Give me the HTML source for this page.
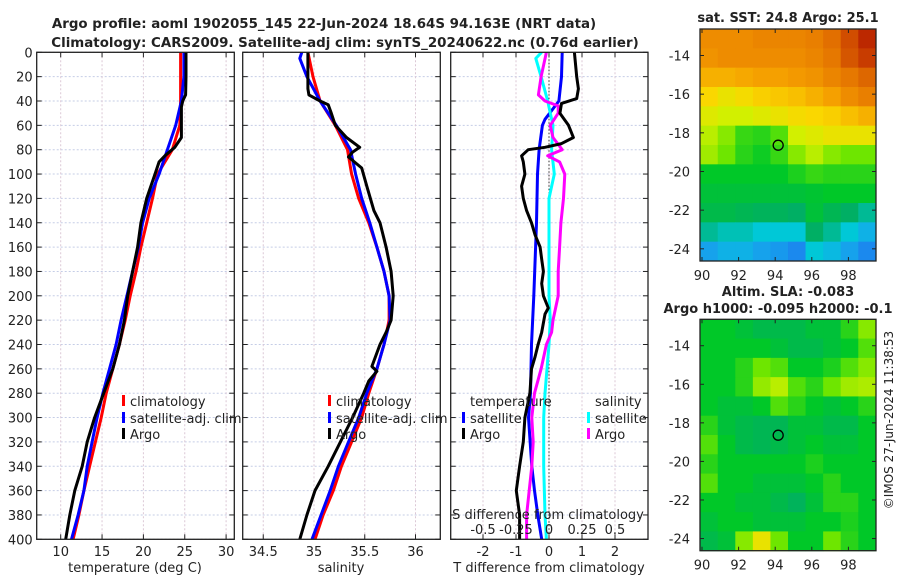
<!DOCTYPE html>
<html><head><meta charset="utf-8"><style>
html,body{margin:0;padding:0;background:#fff;}
svg{display:block;font-family:"DejaVu Sans","Liberation Sans",sans-serif;}
text{fill:#222;}
</style></head><body>
<svg id="chart" width="900" height="580" viewBox="0 0 900 580" xmlns="http://www.w3.org/2000/svg">
<g id="titles">
<text x="324" y="28" font-size="13.4" font-weight="bold" text-anchor="middle">Argo profile: aoml 1902055_145 22-Jun-2024 18.64S 94.163E (NRT data)</text>
<text x="345" y="47" font-size="13.4" font-weight="bold" text-anchor="middle">Climatology: CARS2009. Satellite-adj clim: synTS_20240622.nc (0.76d earlier)</text>
<text x="788" y="22" font-size="13" font-weight="bold" text-anchor="middle">sat. SST: 24.8 Argo: 25.1</text>
<text x="788" y="296" font-size="13" font-weight="bold" text-anchor="middle">Altim. SLA: -0.083</text>
<text x="778" y="313" font-size="13" font-weight="bold" text-anchor="middle">Argo h1000: -0.095 h2000: -0.1</text>
<text transform="translate(893,420) rotate(-90)" font-size="12" text-anchor="middle">©IMOS 27-Jun-2024 11:38:53</text>
</g>
<g id="plots"></g>
</svg>
<script>
// ---------- Data ----------
const depthStd = [0,20,40,60,80,100,120,140,160,180,200,220,240,260,280,300,320,340,360,380,400];
const depthTicks = [0,20,40,60,80,100,120,140,160,180,200,220,240,260,280,300,320,340,360,380,400];
const tempClim = [24.5,24.5,24.5,24.4,23.5,21.7,21.1,20.4,19.7,19.1,18.4,17.8,17.1,16.3,15.5,14.9,14.2,13.5,12.8,12.2,11.5];
const tempSat  = [24.9,24.9,24.6,23.9,22.9,21.9,20.7,19.9,19.4,18.7,18.0,17.3,16.7,15.9,15.1,14.4,13.8,13.2,12.8,12.1,11.3];
const argoTempDepth = [0,20,35,40,45,70,78,85,90,100,120,140,160,180,200,220,240,260,280,300,320,340,360,380,400];
const tempArgo = [25.15,25.15,25.1,24.75,24.6,24.6,23.8,22.6,21.9,21.4,20.4,19.7,19.3,18.7,18.1,17.7,17.1,16.3,15.2,14.1,13.2,12.6,11.7,11.1,10.6];
const salClim = [34.94,34.99,35.06,35.21,35.33,35.37,35.44,35.54,35.62,35.69,35.74,35.74,35.69,35.62,35.54,35.47,35.37,35.27,35.19,35.09,35.01];
const satSalDepth = [0,5,20,40,60,80,100,120,140,160,180,200,220,240,260,280,300,320,340,360,380,400];
const salSat = [34.88,34.86,34.93,35.06,35.22,35.36,35.41,35.47,35.55,35.62,35.69,35.74,35.75,35.69,35.62,35.52,35.44,35.34,35.24,35.16,35.07,34.98];
const argoSalDepth = [0,30,35,40,43,50,60,70,78,82,86,95,110,130,140,160,180,200,220,230,240,258,262,270,280,300,320,340,360,380,400];
const salArgo = [34.94,34.94,34.95,35.06,35.14,35.17,35.21,35.32,35.45,35.38,35.34,35.47,35.52,35.59,35.65,35.71,35.76,35.78,35.76,35.71,35.65,35.57,35.62,35.54,35.49,35.38,35.26,35.14,35.01,34.93,34.86];
const tdSatDepth = [0,20,40,55,60,80,100,140,200,240,280,300,340,360,380,400];
const tdSat = [0.40,0.38,0.30,-0.12,-0.2,-0.3,-0.35,-0.38,-0.46,-0.53,-0.56,-0.62,-0.52,-0.44,-0.34,-0.22];
const tdArgoDepth = [0,20,30,38,42,50,60,70,75,78,80,85,90,100,110,120,130,140,150,160,170,180,190,200,210,215,230,240,250,260,280,300,320,340,360,380,400];
const tdArgo = [0.77,0.84,0.89,0.84,0.38,0.33,0.59,0.74,0.38,-0.12,-0.63,-0.83,-0.78,-0.73,-0.83,-0.78,-0.68,-0.53,-0.42,-0.27,-0.22,-0.17,-0.22,-0.17,-0.02,-0.12,-0.22,-0.33,-0.42,-0.53,-0.58,-0.73,-0.78,-0.89,-0.99,-0.89,-0.89];
const sdSatDepth = [0,5,20,40,50,60,80,100,120,160,200,220,240,280,300,340,380,400];
const sdSat = [-0.056,-0.10,-0.06,-0.01,0.01,0.03,0.02,0.04,0.0,0.0,0.0,0.01,0.0,-0.03,-0.04,-0.04,-0.03,-0.02];
const sdArgoDepth = [0,20,35,40,44,50,60,65,70,80,85,90,100,120,140,160,180,200,220,230,240,260,280,300,320,340,360,380,400];
const sdArgo = [-0.02,-0.06,-0.08,-0.03,0.07,0.07,0.01,0.02,0.03,0.1,-0.01,0.08,0.12,0.11,0.09,0.08,0.07,0.07,0.03,0.02,-0.02,-0.06,-0.11,-0.13,-0.12,-0.13,-0.15,-0.17,-0.17];
const tempTicks = [10,15,20,25,30];
const salTicks = [34.5,35,35.5,36];
const tdTicks = [-2,-1,0,1,2];
const sdTickVals = [-0.5,-0.25,0,0.25,0.5];
const sdTickLabels = ["-0.5","-0.25","0","0.25","0.5"];
const lonTicks = [90,92,94,96,98];
const latTicks = [-14,-16,-18,-20,-22,-24];
const sstGrid = [
[0.85,0.85,0.85,0.86,0.86,0.86,0.87,0.89,0.93,0.97],
[0.84,0.85,0.85,0.85,0.85,0.85,0.86,0.88,0.92,0.95],
[0.80,0.80,0.81,0.82,0.82,0.83,0.84,0.86,0.88,0.90],
[0.75,0.72,0.74,0.76,0.77,0.78,0.80,0.82,0.85,0.87],
[0.70,0.68,0.68,0.70,0.72,0.74,0.75,0.76,0.78,0.80],
[0.66,0.62,0.56,0.55,0.58,0.68,0.70,0.72,0.72,0.72],
[0.64,0.60,0.55,0.53,0.56,0.62,0.66,0.62,0.60,0.60],
[0.52,0.52,0.52,0.52,0.52,0.54,0.56,0.55,0.55,0.55],
[0.50,0.50,0.50,0.50,0.50,0.50,0.51,0.52,0.52,0.52],
[0.48,0.48,0.47,0.46,0.46,0.45,0.50,0.47,0.45,0.42],
[0.42,0.40,0.40,0.38,0.38,0.38,0.45,0.42,0.38,0.35],
[0.33,0.35,0.35,0.33,0.32,0.30,0.38,0.36,0.33,0.30]];
const slaGrid = [
[0.52,0.52,0.50,0.48,0.48,0.48,0.50,0.50,0.55,0.62],
[0.52,0.52,0.52,0.52,0.50,0.48,0.48,0.50,0.52,0.58],
[0.52,0.52,0.55,0.60,0.58,0.52,0.52,0.54,0.58,0.62],
[0.52,0.52,0.55,0.63,0.66,0.58,0.55,0.60,0.64,0.65],
[0.52,0.50,0.50,0.52,0.58,0.55,0.52,0.50,0.52,0.55],
[0.55,0.50,0.48,0.47,0.47,0.50,0.50,0.48,0.48,0.52],
[0.58,0.52,0.48,0.47,0.48,0.50,0.52,0.50,0.50,0.52],
[0.55,0.52,0.52,0.52,0.52,0.52,0.54,0.52,0.52,0.52],
[0.58,0.52,0.52,0.50,0.50,0.50,0.52,0.55,0.52,0.52],
[0.52,0.52,0.50,0.50,0.48,0.46,0.50,0.55,0.55,0.52],
[0.50,0.52,0.52,0.50,0.50,0.50,0.52,0.52,0.54,0.52],
[0.48,0.50,0.62,0.72,0.60,0.52,0.52,0.60,0.55,0.52]];
const argoLon = 94.163;
const argoLat = -18.64;

// ---------- Helpers ----------
const NS = "http://www.w3.org/2000/svg";
const root = document.getElementById('plots');
function mk(tag, attrs, parent){ const e=document.createElementNS(NS,tag); for(const k in attrs) e.setAttribute(k,attrs[k]); (parent||root).appendChild(e); return e; }
const Y0=52.3, YK=1.2175, YB=539.3;
const yD = d => Y0 + d*YK;
const xT = t => 60.7 + (t-10)*8.27;
const xS = s => 314 + (s-35)*101.5;
const xTd = v => 549 + v*33;
const xSd = v => 549 + v*132;
const panels = [{l:36.7,r:234.3,name:'temperature-panel'},{l:242.7,r:440.3,name:'salinity-panel'},{l:450.7,r:648,name:'difference-panel'}];

function panelFrame(p, xticks, xfn, labels, showYLabels){
  const g = mk('g',{});
  
  
  depthTicks.forEach(d=>{
    const ln = mk('line',{x1:p.l,x2:p.r,y1:yD(d),y2:yD(d),stroke:'#c5cde6','stroke-width':1,'stroke-dasharray':'2,2'},g);
    
    
    mk('line',{x1:p.l,x2:p.l+5,y1:yD(d),y2:yD(d),stroke:'#222'},g);
    mk('line',{x1:p.r-5,x2:p.r,y1:yD(d),y2:yD(d),stroke:'#222'},g);
    if(showYLabels){
      const t = mk('text',{x:p.l-4,y:yD(d)+5,'font-size':13,'text-anchor':'end'},g);
      t.textContent = d;
      
      
    }
  });
  xticks.forEach((v,i)=>{
    const x = xfn(v);
    const ln = mk('line',{x1:x,x2:x,y1:Y0,y2:YB,stroke:'#dcc8d6','stroke-width':1,'stroke-dasharray':'2,2'},g);
    
    
    mk('line',{x1:x,x2:x,y1:YB,y2:YB-5,stroke:'#222'},g);
    mk('line',{x1:x,x2:x,y1:Y0,y2:Y0+5,stroke:'#222'},g);
    const t = mk('text',{x:x,y:556,'font-size':13,'text-anchor':'middle'},g);
    t.textContent = labels[i];
    
    
  });
  return g;
}
function border(p,g){
  const r = mk('rect',{x:p.l,y:Y0,width:p.r-p.l,height:YB-Y0,fill:'none',stroke:'#222','stroke-width':1.3},g);
  
  
}
function line(depths, vals, xfn, color, name, g){
  const pts = depths.map((d,i)=>xfn(vals[i]).toFixed(1)+','+yD(d).toFixed(1)).join(' ');
  const pl = mk('polyline',{points:pts,fill:'none',stroke:color,'stroke-width':3,'stroke-linejoin':'round'},g);
  
  
}
function legendEntry(g,x,y,color,label){
  const e = mk('g',{},g);
  
  
  if(color) mk('rect',{x:x-8,y:y-6,width:3,height:11,fill:color},e);
  const t = mk('text',{x:x,y:y+5,'font-size':13},e);
  t.textContent = label;
}
function clip(p,id){
  const c = mk('clipPath',{id:id});
  mk('rect',{x:p.l,y:Y0,width:p.r-p.l,height:YB-Y0},c);
}

// ---------- Panel 1: temperature ----------
let g1 = panelFrame(panels[0], tempTicks, xT, tempTicks.map(String), true);
clip(panels[0],'c1');
let s1 = mk('g',{'clip-path':'url(#c1)'},g1);
line(depthStd, tempClim, xT, '#ff0000', 'temp-climatology-line', s1);
line(depthStd, tempSat, xT, '#0000ff', 'temp-satellite-line', s1);
line(argoTempDepth, tempArgo, xT, '#000000', 'temp-argo-line', s1);
legendEntry(g1,130,401,'#ff0000','climatology');
legendEntry(g1,130,418,'#0000ff','satellite-adj. clim');
legendEntry(g1,130,434,'#000000','Argo');
border(panels[0],g1);
let xt1 = mk('text',{x:135,y:572,'font-size':13,'text-anchor':'middle'},g1); xt1.textContent='temperature (deg C)';



// ---------- Panel 2: salinity ----------
let g2 = panelFrame(panels[1], salTicks, xS, salTicks.map(String), false);
clip(panels[1],'c2');
let s2 = mk('g',{'clip-path':'url(#c2)'},g2);
line(depthStd, salClim, xS, '#ff0000', 'sal-climatology-line', s2);
line(satSalDepth, salSat, xS, '#0000ff', 'sal-satellite-line', s2);
line(argoSalDepth, salArgo, xS, '#000000', 'sal-argo-line', s2);
legendEntry(g2,336,401,'#ff0000','climatology');
legendEntry(g2,336,418,'#0000ff','satellite-adj. clim');
legendEntry(g2,336,434,'#000000','Argo');
border(panels[1],g2);
let xt2 = mk('text',{x:341,y:572,'font-size':13,'text-anchor':'middle'},g2); xt2.textContent='salinity';



// ---------- Panel 3: differences ----------
let g3 = panelFrame(panels[2], tdTicks, xTd, tdTicks.map(String), false);
mk('line',{x1:549,x2:549,y1:Y0,y2:YB,stroke:'#333','stroke-width':1,'stroke-dasharray':'1.5,2'},g3);
clip(panels[2],'c3');
let s3 = mk('g',{'clip-path':'url(#c3)'},g3);
line(tdSatDepth, tdSat, xTd, '#0000ff', 'tdiff-satellite-line', s3);
line(sdSatDepth, sdSat, xSd, '#00ffff', 'sdiff-satellite-line', s3);
line(sdArgoDepth, sdArgo, xSd, '#ff00ff', 'sdiff-argo-line', s3);
line(tdArgoDepth, tdArgo, xTd, '#000000', 'tdiff-argo-line', s3);
legendEntry(g3,470,401,null,'temperature');
legendEntry(g3,470,418,'#0000ff','satellite');
legendEntry(g3,470,434,'#000000','Argo');
legendEntry(g3,595,401,null,'salinity');
legendEntry(g3,595,418,'#00ffff','satellite');
legendEntry(g3,595,434,'#ff00ff','Argo');
let sdt = mk('text',{x:548,y:519,'font-size':13,'text-anchor':'middle'},g3); sdt.textContent='S difference from climatology';


sdTickVals.forEach((v,i)=>{
  const t = mk('text',{x:xSd(v),y:534,'font-size':13,'text-anchor':'middle'},g3);
  t.textContent = sdTickLabels[i];
  
  
});
border(panels[2],g3);
let xt3 = mk('text',{x:549,y:572,'font-size':13,'text-anchor':'middle'},g3); xt3.textContent='T difference from climatology';



// ---------- Maps ----------
const cmapStops = [[0.28,[30,120,240]],[0.34,[20,170,235]],[0.38,[0,200,215]],[0.45,[0,175,100]],[0.52,[0,200,40]],[0.6,[110,230,0]],[0.68,[210,240,0]],[0.75,[250,215,0]],[0.82,[245,160,0]],[0.88,[230,120,0]],[0.95,[200,60,0]],[1.0,[170,10,0]]];
function cmap(v){
  if(v<=cmapStops[0][0]) return 'rgb('+cmapStops[0][1].join(',')+')';
  for(let i=1;i<cmapStops.length;i++){
    if(v<=cmapStops[i][0]){
      const a=cmapStops[i-1], b=cmapStops[i], f=(v-a[0])/(b[0]-a[0]);
      return 'rgb('+a[1].map((c,k)=>Math.round(c+(b[1][k]-c)*f)).join(',')+')';
    }
  }
  return 'rgb('+cmapStops[cmapStops.length-1][1].join(',')+')';
}
const LON0=89.9, LON1=99.5, LAT0=-12.63, LAT1=-24.63;
function drawMap(grid, top, bottom, name){
  const g = mk('g',{});
  
  
  const L=700, R=876;
  const xL = lon => 702 + (lon-90)*18.3;
  const yL = lat => top + (LAT0-lat)*(bottom-top)/(LAT0-LAT1);
  const rows=grid.length, cols=grid[0].length;
  const dLon=(LON1-LON0)/cols, dLat=(LAT0-LAT1)/rows;
  grid.forEach((row,r)=>row.forEach((v,c)=>{
    const x0=xL(LON0+c*dLon), x1=xL(LON0+(c+1)*dLon);
    const y0=yL(LAT0-r*dLat), y1=yL(LAT0-(r+1)*dLat);
    const cell = mk('rect',{x:x0,y:y0,width:x1-x0+0.5,height:y1-y0+0.5,fill:cmap(v)},g);
    
    
  }));
  lonTicks.forEach(lon=>{
    const x=xL(lon);
    mk('line',{x1:x,x2:x,y1:top,y2:top+4,stroke:'#222'},g);
    mk('line',{x1:x,x2:x,y1:bottom,y2:bottom-4,stroke:'#222'},g);
    const t = mk('text',{x:x,y:bottom+19,'font-size':13,'text-anchor':'middle'},g);
    t.textContent=lon;
    
    
  });
  latTicks.forEach(lat=>{
    const y=yL(lat);
    mk('line',{x1:L,x2:L+4,y1:y,y2:y,stroke:'#222'},g);
    mk('line',{x1:R,x2:R-4,y1:y,y2:y,stroke:'#222'},g);
    const t = mk('text',{x:690,y:y+5,'font-size':13,'text-anchor':'end'},g);
    t.textContent=lat;
    
    
  });
  const fr = mk('rect',{x:L,y:top,width:R-L,height:bottom-top,fill:'none',stroke:'#222','stroke-width':1.3},g);
  
  
  const m = mk('circle',{cx:xL(argoLon),cy:yL(argoLat),r:5,fill:'none',stroke:'#000','stroke-width':1.3},g);
  
  
}
drawMap(sstGrid, 29, 261, 'sst-map');
drawMap(slaGrid, 319.3, 550.7, 'sla-map');
</script>
</body></html>
